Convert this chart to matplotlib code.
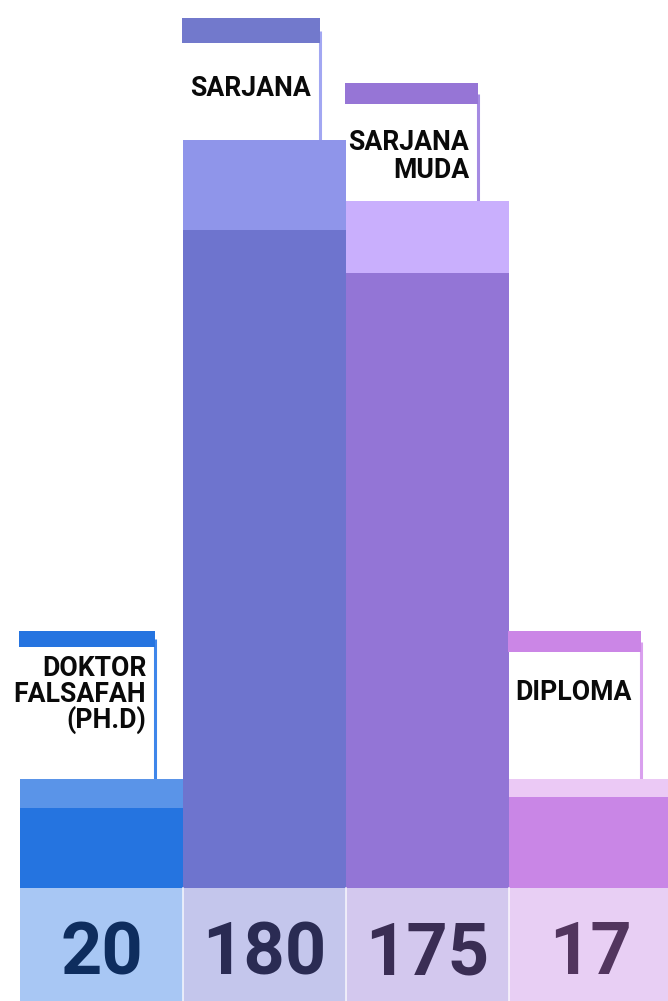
import matplotlib
matplotlib.use("Agg")
import matplotlib.pyplot as plt
from matplotlib.patches import Rectangle

# ---- data ----
categories = ["DOKTOR\nFALSAFAH\n(PH.D)", "SARJANA", "SARJANA\nMUDA", "DIPLOMA"]
values = [20, 180, 175, 17]
# displayed bar heights (as drawn in the infographic, arbitrary units)
bar_heights = [109, 748, 687, 109]
cap_depths = [29, 90, 72, 18]
flag_heights = [148, 122, 118, 148]

bar_colors = ["#2574E0", "#6E74CE", "#9375D6", "#C986E6"]
cap_colors = ["#5A94E8", "#8F95EA", "#C9AFFD", "#EBC9F5"]
strip_colors = ["#2574E0", "#7279CC", "#9675D6", "#CB86E6"]
pole_colors = ["#3F86EA", "#A2A7F2", "#A58BE2", "#D9A0EE"]
box_colors = ["#A8C7F4", "#C4C6EC", "#D3C8EE", "#E8CFF4"]
num_colors = ["#0E2D5E", "#2A2B53", "#3A2D54", "#52355E"]

W, H = 668, 1001
fig = plt.figure(figsize=(W / 100, H / 100), dpi=100)
ax = fig.add_axes([0, 0, 1, 1])
px = 1 / 163.0  # one pixel in x units (bar width = 1)
ax.set_xlim(-0.5 - 20 * px, 3.5 - 4 * px)
ax.set_ylim(-113, 888)
ax.axis("off")

x = list(range(len(values)))
flag_w = [0.83, 0.84, 0.81, 0.81]
strip_h = [16, 25, 21, 21]
label_offsets = [
    [21, 47, 73],
    [45],
    [38, 66],
    [40],
]

ax.bar(x, bar_heights, width=1.0, color=bar_colors, align="center", zorder=2)
ax.bar(x, cap_depths, width=1.0, bottom=[h - c for h, c in zip(bar_heights, cap_depths)],
       color=cap_colors, zorder=3)
ax.bar(x, [113] * 4, width=1.0, bottom=-113, color=box_colors, zorder=2)

for i, v in enumerate(values):
    left = i - 0.5
    top = bar_heights[i]
    ftop = top + flag_heights[i]
    pole_x = left + flag_w[i]
    # pole
    ax.plot([pole_x, pole_x], [top, ftop - strip_h[i] / 2], color=pole_colors[i],
            lw=2.2, solid_capstyle="butt", zorder=1)
    # flag strip
    ax.add_patch(Rectangle((left - px, ftop - strip_h[i]), flag_w[i] + px, strip_h[i],
                           color=strip_colors[i], zorder=4, lw=0))
    # label lines
    lines = categories[i].split("\n")
    for ln, off in zip(lines, label_offsets[i]):
        ax.text(pole_x - 9 * px, ftop - strip_h[i] - off, ln, ha="right", va="center",
                fontsize=19.2, fontweight="bold", family="Roboto", color="#0A0A0A",
                zorder=5)
    # value
    ax.text(i, -67, str(v), ha="center", va="center", fontsize=52, fontweight="bold",
            family="Roboto", color=num_colors[i], zorder=5)
    # separator
    if i > 0:
        ax.plot([left, left], [-113, 0], color="white", lw=1.2, alpha=0.8, zorder=4)

fig.savefig("out.png", dpi=100, facecolor="white")
